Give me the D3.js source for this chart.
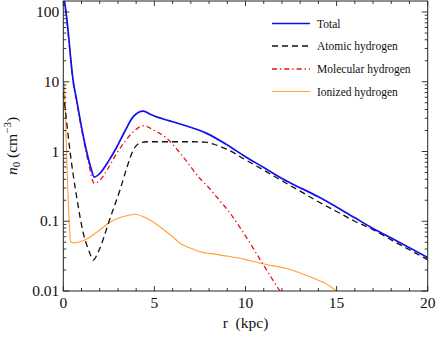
<!DOCTYPE html>
<html>
<head>
<meta charset="utf-8">
<script src="https://cdn.jsdelivr.net/npm/d3@7"></script>
<style>
  body { margin: 0; background: #fff; }
  svg text { font-family: "Liberation Serif", "Times New Roman", serif; fill: #111; }
</style>
</head>
<body>
<div id="chart"></div>
<script>
// radius grid (kpc) and densities (cm^-3)
var totalR = [0, 0.15, 0.55, 0.73, 1.0, 1.28, 1.5, 1.7, 2.02, 2.5, 2.93, 3.4, 3.84, 4.39, 4.8, 5.2, 5.67, 6.59, 7.87, 9, 10, 11, 12, 12.44, 14, 16, 16.83, 18, 20];
var totalN = [182, 100, 10, 5.5, 2.24, 1.0, 0.6, 0.43, 0.49, 0.74, 1.15, 2.0, 3.16, 3.8, 3.39, 3.09, 2.83, 2.4, 1.82, 1.24, 0.84, 0.59, 0.41, 0.357, 0.224, 0.112, 0.0836, 0.0575, 0.0302];

var atomicR = [0, 0.09, 0.37, 0.73, 1.1, 1.4, 1.65, 1.9, 2.2, 2.47, 3.11, 3.5, 3.84, 4.2, 4.6, 5, 6, 7, 7.8, 8.3, 9, 10, 11, 12, 13, 14, 15, 16, 17, 18, 19, 20];
var atomicN = [6.9, 4.4, 1.0, 0.225, 0.067, 0.038, 0.0278, 0.0355, 0.056, 0.093, 0.28, 0.6, 1.05, 1.32, 1.38, 1.38, 1.38, 1.38, 1.36, 1.26, 1.07, 0.76, 0.54, 0.38, 0.27, 0.19, 0.138, 0.1, 0.076, 0.054, 0.039, 0.028];

var molecularR = [0, 0.15, 0.55, 0.73, 1.0, 1.37, 1.7, 2.02, 2.5, 2.93, 3.4, 3.84, 4.4, 5.0, 5.67, 6.57, 7.5, 8.0, 8.5, 9.2, 9.79, 10.89, 11.9, 12.2];
var molecularN = [166, 93, 9.5, 5.2, 2.1, 0.71, 0.35, 0.39, 0.6, 0.94, 1.41, 1.92, 2.34, 2.0, 1.55, 0.84, 0.41, 0.3, 0.21, 0.126, 0.075, 0.026, 0.01, 0.0078];

var ionizedR = [0, 0.04, 0.1, 0.2, 0.28, 0.4, 0.5, 1.19, 2.0, 2.47, 3.0, 3.5, 3.93, 4.58, 5.0, 5.5, 6.0, 6.42, 7.0, 7.5, 8.05, 9, 10, 10.8, 12.44, 13.54, 14.3, 15];
var ionizedN = [10, 10, 5.0, 0.63, 0.178, 0.051, 0.049, 0.054, 0.075, 0.093, 0.11, 0.12, 0.126, 0.11, 0.095, 0.076, 0.06, 0.048, 0.041, 0.0366, 0.0346, 0.0316, 0.0282, 0.025, 0.0204, 0.016, 0.0132, 0.01];

var seriesNames = ["Total", "Atomic hydrogen", "Molecular hydrogen", "Ionized hydrogen"];
var xTicks = [0, 5, 10, 15, 20];
var yTicks = [100, 10, 1, 0.1, 0.01];
var yTickLabels = ["100", "10", "1", "0.1", "0.01"];

var width = 436, height = 337;
var margin = { left: 63.3, right: 8.3, top: 1, bottom: 46 };

var svg = d3.select("#chart").append("svg")
    .attr("width", width)
    .attr("height", height);

var xScale = d3.scaleLinear()
    .domain([0, 20])
    .range([margin.left, width - margin.right]);
var yScale = d3.scaleLog()
    .domain([0.01, 143.8])
    .range([height - margin.bottom, margin.top]);

svg.append("clipPath").attr("id", "plotClip")
  .append("rect")
    .attr("x", margin.left).attr("y", margin.top)
    .attr("width", xScale(20) - margin.left)
    .attr("height", yScale(0.01) - margin.top);

// series styles
var styles = [
  { r: totalR, n: totalN, color: "#0f0fef", width: 1.7, dash: null },
  { r: atomicR, n: atomicN, color: "#111", width: 1.3, dash: "6,4" },
  { r: molecularR, n: molecularN, color: "#f01010", width: 1.3, dash: "5,3,1.3,3" },
  { r: ionizedR, n: ionizedN, color: "#ffa033", width: 1.1, dash: null }
];

var line = d3.line()
    .x(d => xScale(d[0]))
    .y(d => yScale(d[1]))
    .curve(d3.curveMonotoneX);

var plotG = svg.append("g").attr("clip-path", "url(#plotClip)");
// draw total last so it sits on top
[3, 2, 1, 0].forEach(function(i) {
    var s = styles[i];
    var pts = s.r.map((r, j) => [r, s.n[j]]);
    plotG.append("path")
        .attr("d", line(pts))
        .attr("fill", "none")
        .attr("stroke", s.color)
        .attr("stroke-width", s.width)
        .attr("stroke-dasharray", s.dash);
});

// frame
var x0 = xScale(0), x1 = xScale(20), y0 = yScale(0.01), y1 = margin.top;
svg.append("rect")
    .attr("x", x0).attr("y", y1)
    .attr("width", x1 - x0).attr("height", y0 - y1)
    .attr("fill", "none").attr("stroke", "#222").attr("stroke-width", 1);

// x ticks (inward, bottom and top)
var xMinor = d3.range(0, 21, 1);
var tickG = svg.append("g").attr("stroke", "#222").attr("stroke-width", 0.9);
xMinor.forEach(function(v) {
    var major = v % 5 === 0;
    var len = major ? 5 : 3;
    tickG.append("line").attr("x1", xScale(v)).attr("x2", xScale(v))
        .attr("y1", y0).attr("y2", y0 - len);
    tickG.append("line").attr("x1", xScale(v)).attr("x2", xScale(v))
        .attr("y1", y1).attr("y2", y1 + len);
});
// y ticks (log, both sides)
var yMinor = [];
[0.01, 0.1, 1, 10, 100].forEach(function(dec) {
    for (var k = 1; k <= 9; k++) {
        var v = dec * k;
        if (v <= 143.8) yMinor.push({ v: v, major: k === 1 });
    }
});
yMinor.forEach(function(t) {
    var len = t.major ? 6 : 3;
    var y = yScale(t.v);
    tickG.append("line").attr("x1", x0).attr("x2", x0 + len).attr("y1", y).attr("y2", y);
    tickG.append("line").attr("x1", x1).attr("x2", x1 - len).attr("y1", y).attr("y2", y);
});

// tick labels
svg.append("g").selectAll("text")
    .data(xTicks).enter().append("text")
    .attr("x", d => xScale(d))
    .attr("y", y0 + 17)
    .attr("text-anchor", "middle")
    .style("font-size", "15.5px")
    .text(d => d);
svg.append("g").selectAll("text")
    .data(yTicks).enter().append("text")
    .attr("x", x0 - 4)
    .attr("y", d => yScale(d) + 5)
    .attr("text-anchor", "end")
    .style("font-size", "15.5px")
    .text((d, i) => yTickLabels[i]);

// axis titles
svg.append("text")
    .attr("x", (x0 + x1) / 2)
    .attr("y", 328)
    .attr("text-anchor", "middle")
    .style("font-size", "15.5px")
    .attr("xml:space", "preserve")
    .text("r  (kpc)");

var yLab = svg.append("text")
    .attr("transform", "translate(17," + ((y0 + y1) / 2) + ") rotate(-90)")
    .attr("text-anchor", "middle")
    .style("font-size", "15.5px");
yLab.append("tspan").style("font-style", "italic").text("n");
yLab.append("tspan").attr("dy", 3).style("font-size", "11px").text("0");
yLab.append("tspan").attr("dy", -3).text(" (cm");
yLab.append("tspan").attr("dy", -6).style("font-size", "11px").text("\u22123");
yLab.append("tspan").attr("dy", 6).text(")");

// legend
var legendY = [23.5, 46, 69, 91.5];
var legend = svg.append("g");
styles.forEach(function(s, i) {
    legend.append("line")
        .attr("x1", 272).attr("x2", 310)
        .attr("y1", legendY[i]).attr("y2", legendY[i])
        .attr("stroke", s.color)
        .attr("stroke-width", s.width)
        .attr("stroke-dasharray", s.dash);
    legend.append("text")
        .attr("x", 317)
        .attr("y", legendY[i] + 4)
        .style("font-size", "11.5px")
        .text(seriesNames[i]);
});
</script>
</body>
</html>
